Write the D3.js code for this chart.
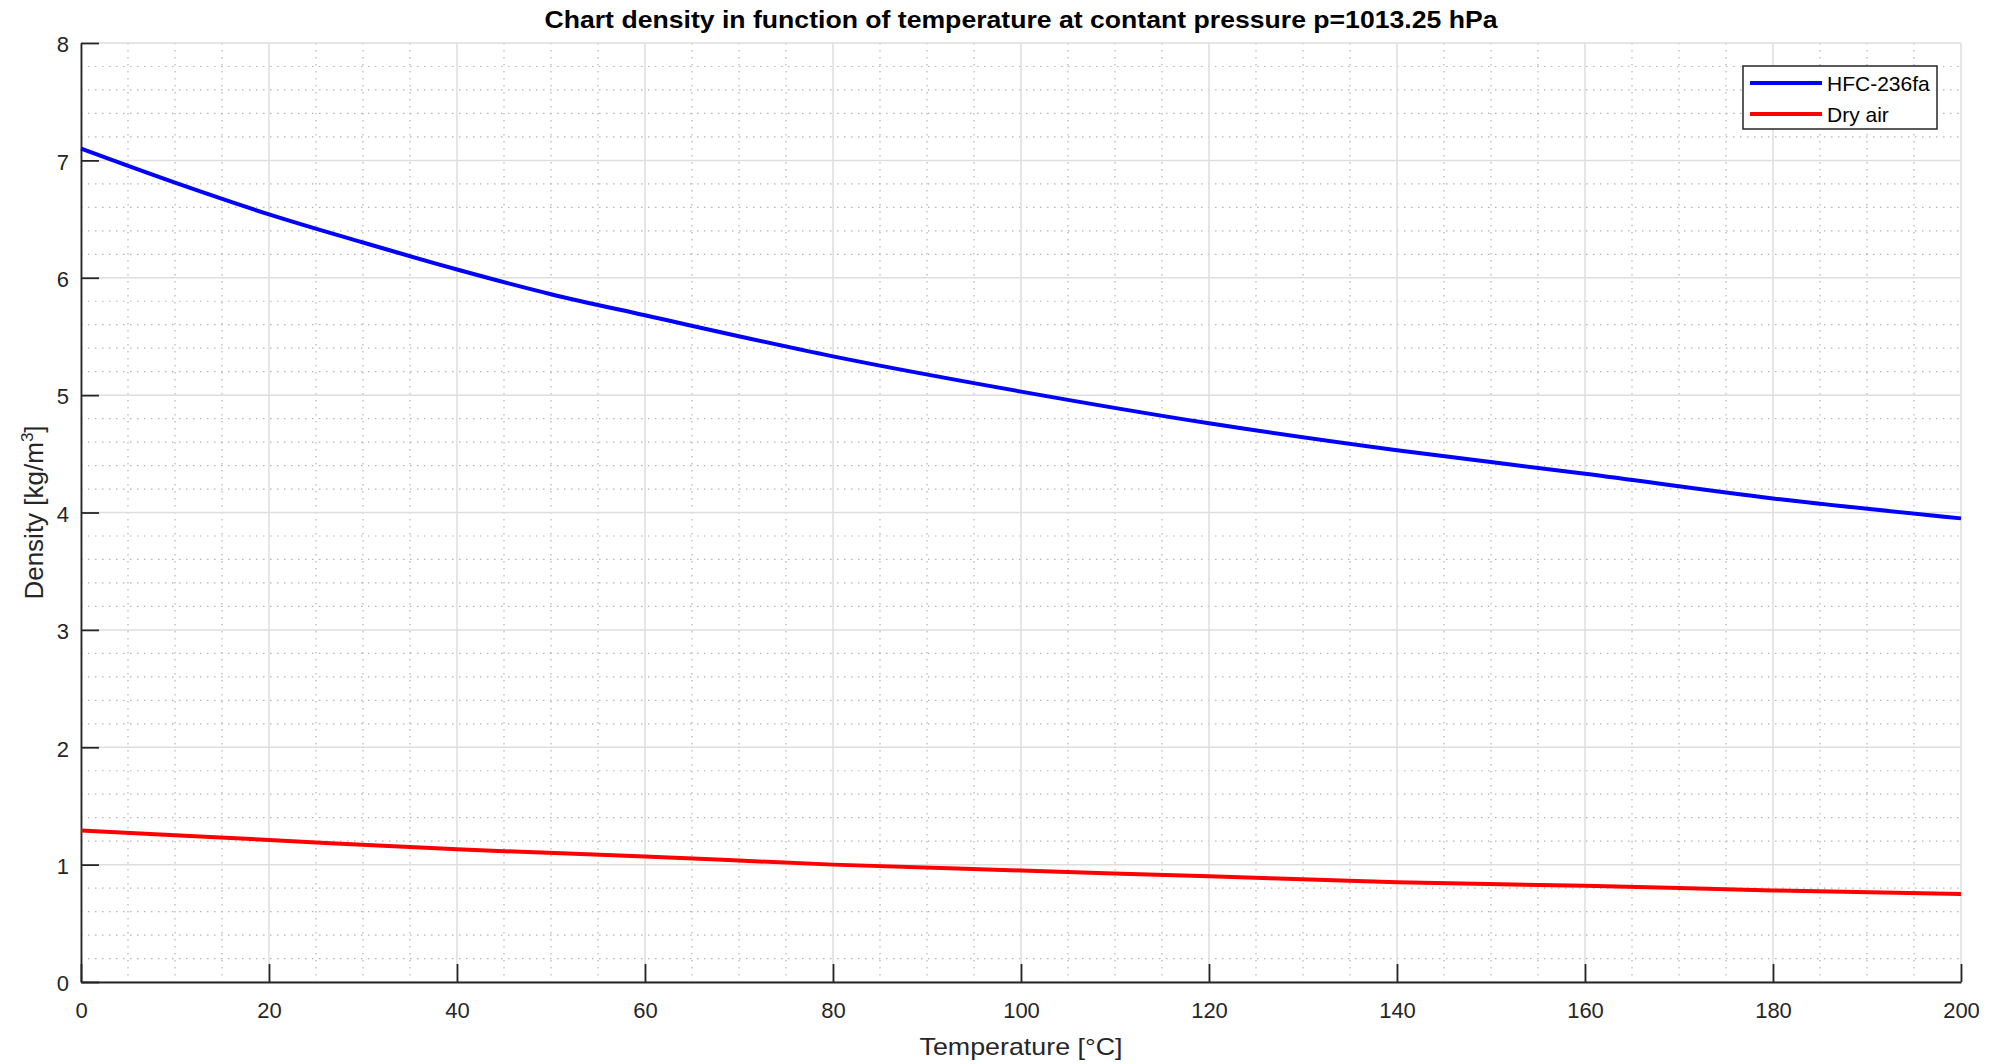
<!DOCTYPE html>
<html>
<head>
<meta charset="utf-8">
<script src="https://cdn.jsdelivr.net/npm/d3@7.9.0/dist/d3.min.js"></script>
<style>
  body { margin: 0; background: #fff; }
  svg { display: block; font-family: "Liberation Sans", Arial, Helvetica, sans-serif; }
  .tick text { fill: #262626; font-size: 22px; }
</style>
</head>
<body>
<svg id="chart" width="1992" height="1064"></svg>
<script>
// values
const hfcTemps = [0, 10, 20, 30, 40, 50, 60, 80, 100, 120, 140, 160, 180, 200];
const hfcDensity = [7.10, 6.81, 6.54, 6.30, 6.07, 5.86, 5.68, 5.33, 5.03, 4.76, 4.53, 4.33, 4.12, 3.95];
const airTemps = [0, 20, 40, 60, 80, 100, 120, 140, 160, 180, 200];
const airDensity = [1.29, 1.21, 1.13, 1.07, 1.00, 0.95, 0.90, 0.85, 0.82, 0.78, 0.75];
const xTicks = [0, 20, 40, 60, 80, 100, 120, 140, 160, 180, 200];
const yTicks = [0, 1, 2, 3, 4, 5, 6, 7, 8];
const seriesNames = ['HFC-236fa', 'Dry air'];
const seriesColors = ['#0000ff', '#ff0000'];

const plotLeft = 81, plotRight = 1961, plotTop = 43, plotBottom = 982;
const svg = d3.select('#chart');

let x = d3.scaleLinear().domain([0, 200]).range([plotLeft, plotRight]);
let y = d3.scaleLinear().domain([0, 8]).range([plotBottom, plotTop]);

// minor grid (dotted)
let minorX = d3.range(0, 201, 5).filter(v => v % 20 !== 0);
let minorY = d3.range(0, 41).map(v => v / 5).filter(v => v % 1 !== 0);
let grid = svg.append('g');
grid.selectAll('.mx').data(minorX).join('line')
  .attr('x1', d => x(d)).attr('x2', d => x(d))
  .attr('y1', plotTop).attr('y2', plotBottom)
  .attr('stroke', '#b4b4b4').attr('stroke-width', 1.2)
  .attr('stroke-dasharray', '1.5,5.5');
grid.selectAll('.my').data(minorY).join('line')
  .attr('y1', d => y(d)).attr('y2', d => y(d))
  .attr('x1', plotLeft).attr('x2', plotRight)
  .attr('stroke', '#b4b4b4').attr('stroke-width', 1.2)
  .attr('stroke-dasharray', '1.5,5.5');
// major grid (solid, light)
grid.selectAll('.gx').data(xTicks).join('line')
  .attr('x1', d => x(d)).attr('x2', d => x(d))
  .attr('y1', plotTop).attr('y2', plotBottom)
  .attr('stroke', '#dedede').attr('stroke-width', 1.5);
grid.selectAll('.gy').data(yTicks).join('line')
  .attr('y1', d => y(d)).attr('y2', d => y(d))
  .attr('x1', plotLeft).attr('x2', plotRight)
  .attr('stroke', '#dedede').attr('stroke-width', 1.5);

// axes, ticks pointing inward
let xAxis = svg.append('g').attr('transform', `translate(0,${plotBottom})`)
  .call(d3.axisBottom(x).tickValues(xTicks).tickSizeInner(-18).tickSizeOuter(0).tickPadding(20));
let yAxis = svg.append('g').attr('transform', `translate(${plotLeft},0)`)
  .call(d3.axisLeft(y).tickValues(yTicks).tickSizeInner(-18).tickSizeOuter(0).tickPadding(12));
[xAxis, yAxis].forEach(a => {
  a.select('.domain').attr('stroke', '#262626').attr('stroke-width', 1.8);
  a.selectAll('.tick line').attr('stroke', '#262626').attr('stroke-width', 1.8);
  a.selectAll('.tick text').attr('font-family', null).attr('font-size', null);
});
xAxis.selectAll('.tick text').attr('y', 0).attr('dy', '36px');
yAxis.selectAll('.tick text').attr('dy', '0.4em');

// curves
let line = d3.line().x(d => x(d[0])).y(d => y(d[1])).curve(d3.curveMonotoneX);
svg.append('path')
  .datum(d3.zip(hfcTemps, hfcDensity))
  .attr('d', line).attr('fill', 'none')
  .attr('stroke', seriesColors[0]).attr('stroke-width', 4);
svg.append('path')
  .datum(d3.zip(airTemps, airDensity))
  .attr('d', line).attr('fill', 'none')
  .attr('stroke', seriesColors[1]).attr('stroke-width', 4);

// title and axis labels
svg.append('text')
  .attr('x', (plotLeft + plotRight) / 2).attr('y', 28)
  .attr('text-anchor', 'middle').attr('font-weight', 'bold')
  .attr('font-size', 24).attr('fill', '#000')
  .attr('textLength', 953).attr('lengthAdjust', 'spacingAndGlyphs')
  .text('Chart density in function of temperature at contant pressure p=1013.25 hPa');
svg.append('text')
  .attr('x', (plotLeft + plotRight) / 2).attr('y', 1055)
  .attr('text-anchor', 'middle').attr('font-size', 24).attr('fill', '#262626')
  .attr('textLength', 203).attr('lengthAdjust', 'spacingAndGlyphs')
  .text('Temperature [°C]');
let yl = svg.append('text')
  .attr('transform', `translate(43,${(plotTop + plotBottom) / 2}) rotate(-90)`)
  .attr('text-anchor', 'middle').attr('font-size', 26).attr('fill', '#262626');
yl.append('tspan').text('Density [kg/m');
yl.append('tspan').attr('font-size', 17).attr('dy', -10).text('3');
yl.append('tspan').attr('dy', 10).text(']');

// legend
let legend = svg.append('g');
legend.append('rect')
  .attr('x', 1743).attr('y', 66).attr('width', 194).attr('height', 63)
  .attr('fill', '#fff').attr('stroke', '#262626').attr('stroke-width', 1.5);
seriesNames.forEach((name, i) => {
  let ly = 83 + i * 31;
  legend.append('line')
    .attr('x1', 1750).attr('x2', 1822).attr('y1', ly).attr('y2', ly)
    .attr('stroke', seriesColors[i]).attr('stroke-width', 4);
  legend.append('text')
    .attr('x', 1827).attr('y', ly).attr('dy', '0.36em')
    .attr('font-size', 21).attr('fill', '#000')
    .text(name);
});
</script>
</body>
</html>
